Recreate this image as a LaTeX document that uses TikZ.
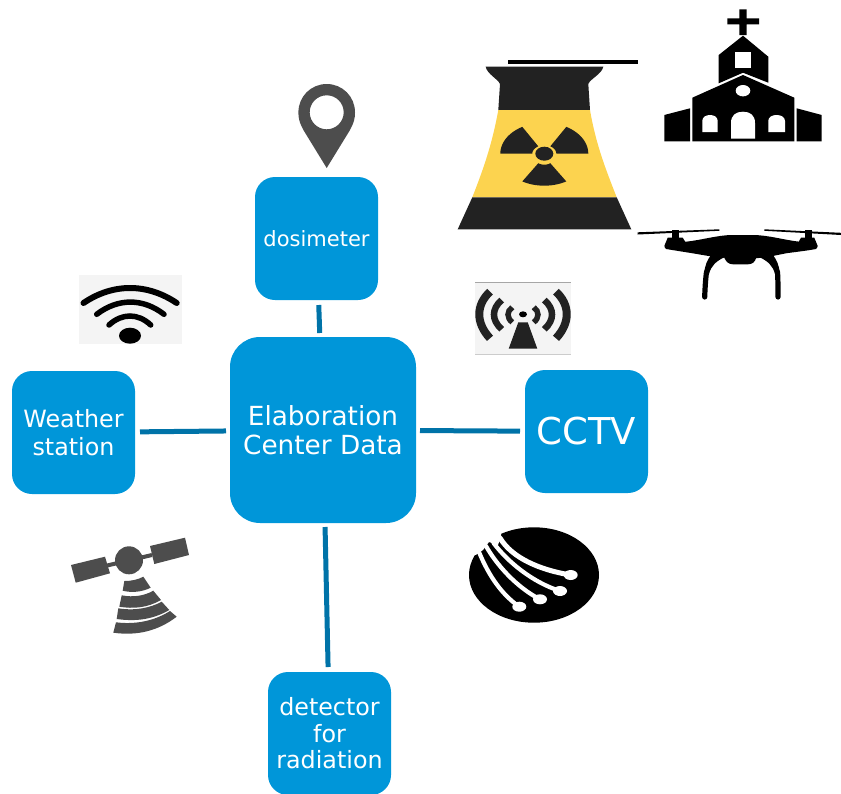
\documentclass[tikz,border=0pt]{standalone}
\usepackage{fontspec}
\setmainfont{DejaVu Sans}
\definecolor{boxblue}{HTML}{0096D9}
\definecolor{linkblue}{HTML}{0073A8}
\definecolor{pingray}{HTML}{4D4D4D}
\definecolor{towerdark}{HTML}{222222}
\definecolor{toweryellow}{HTML}{FCD34F}
\definecolor{iconbg}{HTML}{F4F4F4}
\tikzset{
  x=1pt,y=-1pt,
  unit/.style={draw=none,fill=boxblue,rounded corners=20pt,text=white,align=center,
    minimum width=123pt,minimum height=123pt,inner sep=0pt,outer sep=0pt},
  hub/.style={unit,rounded corners=30pt,minimum width=186pt,minimum height=186pt},
  link/.style={draw=linkblue,line width=5pt,shorten <=5pt,shorten >=4pt},
  fibre/.style={draw=white,line width=4.2pt,line cap=round},
  bandline/.style={draw=black,line cap=round},
}
\newcommand{\fsz}[2]{\fontsize{#1pt}{#2pt}\selectfont}
\begin{document}
\begin{tikzpicture}
\useasboundingbox (0,0) rectangle (841,793);
% units
\node[hub,font=\fsz{26.3}{29.5}]  (hubn) at (323,430) {Elaboration\\Center Data};
\node[unit,font=\fsz{21}{24}] (dosi) at (316.5,238.5) {dosimeter};
\node[unit,font=\fsz{23.8}{27.5}] (wstn) at (73.5,432.5) {Weather\\station};
\node[unit,font=\fsz{37}{42}] (cctv) at (586.5,431.5) {CCTV};
\node[unit,font=\fsz{23.8}{26.5}] (detr) at (329.5,733.5) {detector\\for\\radiation};
\draw[link] (dosi) -- (hubn);
\draw[link] (wstn) -- (hubn);
\draw[link] (cctv) -- (hubn);
\draw[link] (detr) -- (hubn);
% pin
\fill[pingray,even odd rule] (326.7,168) -- (304,131) .. controls (299,122) and (298.4,118) .. (298.4,112.3)
  .. controls (298.4,96.5) and (311,84) .. (326.7,84) .. controls (342.4,84) and (355,96.5) .. (355,112.3)
  .. controls (355,118) and (354.4,122) .. (349.4,131) -- cycle
  (326.7,112.3) circle[radius=17];
% wifi
\fill[iconbg] (79,275) rectangle (182,344);
\draw[bandline,line width=6pt] (83.5,303) .. controls (113,283) and (147,283) .. (176.7,303);
\draw[bandline,line width=5.5pt] (96.7,314.3) .. controls (118,298) and (143,298) .. (164,314.3);
\draw[bandline,line width=5.5pt] (109,325) .. controls (122,313) and (138,313) .. (150.7,325);
\fill[black] (130,335.7) ellipse[x radius=11,y radius=8];
% cooling tower
\fill[black] (508,60) rectangle (638,64);
\fill[towerdark] (485.7,66.7) -- (603.3,66.7) .. controls (602,74) and (590,79) .. (588.3,84) -- (590,110) -- (498.3,110)
  -- (500,84) .. controls (498,79) and (487,74) .. (485.7,66.7) -- cycle;
\fill[toweryellow] (498.3,110) -- (590,110) .. controls (596,145) and (606,170) .. (616.7,197.3) -- (472.3,197.3)
  .. controls (483,170) and (492,145) .. (498.3,110) -- cycle;
\fill[towerdark] (472.3,197.3) -- (616.7,197.3) -- (631.3,229.3) -- (457.7,229.3) -- cycle;
\fill[towerdark] plot[domain=180:240,samples=15] ({544.3+44*cos(\x)},{153.7+31*sin(\x)})
  -- plot[domain=240:180,samples=15] ({544.3+12*cos(\x)},{153.7+8.5*sin(\x)}) -- cycle;
\fill[towerdark] plot[domain=300:360,samples=15] ({544.3+44*cos(\x)},{153.7+31*sin(\x)})
  -- plot[domain=360:300,samples=15] ({544.3+12*cos(\x)},{153.7+8.5*sin(\x)}) -- cycle;
\fill[towerdark] plot[domain=60:120,samples=15] ({544.3+44*cos(\x)},{153.7+32*sin(\x)})
  -- plot[domain=120:60,samples=15] ({544.3+12*cos(\x)},{153.7+11*sin(\x)}) -- cycle;
\fill[towerdark] (544.3,153.7) ellipse[x radius=9,y radius=7];
% church
\fill[black] (739.3,9.3) rectangle (746.7,35) (727.3,18.3) rectangle (759,24.3);
\fill[black] (718.7,55) -- (743,35.7) -- (768.3,56.7) -- (768.3,82.7) -- (743,72.7) -- (718.7,83.3) -- cycle;
\fill[white] (735,52.3) rectangle (751,67.7);
\fill[black] (692.3,97.7) -- (743,75) -- (794.3,97.7) -- (794.3,141.3) -- (692.3,141.3) -- cycle;
\fill[black] (664.3,115) -- (690,108.3) -- (690,141.3) -- (664.3,141.3) -- cycle;
\fill[black] (796.7,108.3) -- (821.7,115) -- (821.7,141.3) -- (796.7,141.3) -- cycle;
\fill[white] (743,90.7) ellipse[x radius=7.3,y radius=5.7];
\fill[white] (731,138.7) -- (731,123) .. controls (731,115) and (736,111.7) .. (743,111.7)
  .. controls (750,111.7) and (755,115) .. (755,123) -- (755,138.7) -- cycle;
\fill[white] (702.3,132) -- (702.3,121) .. controls (702.3,117) and (706,115) .. (710,115)
  .. controls (714,115) and (717.7,117) .. (717.7,121) -- (717.7,132) -- cycle;
\fill[white] (768.3,132) -- (768.3,121) .. controls (768.3,117) and (772,115) .. (776.6,115)
  .. controls (781,115) and (785,117) .. (785,121) -- (785,132) -- cycle;
% drone
\fill[black] (637.7,232.3) -- (719.3,229.3) -- (719.3,230.8) -- (637.7,234.5) -- cycle;
\fill[black] (764.3,229.3) -- (841,232.8) -- (841,235) -- (764.3,230.8) -- cycle;
\fill[black] (672,230) rectangle (679,240);
\fill[black] (804.5,230) rectangle (811.7,240);
\fill[black] (667.7,237.7) -- (682.7,237.7) -- (686,243) -- (664.3,246) -- cycle;
\fill[black] (801,237.7) -- (814.3,237.7) -- (817.7,246) -- (798,243) -- cycle;
\fill[black] (664.3,246.7) -- (668,243) -- (686,241.7) .. controls (702,240) and (718,235) .. (732.7,235)
  -- (752.7,235) .. controls (768,235) and (784,240) .. (799.3,241.7) -- (815,243) -- (817.7,246.7)
  -- (816,249) .. controls (805,251) and (795,252) .. (786,253.3) -- (769.3,256.7) -- (756,258.3)
  .. controls (755,262) and (752,264.3) .. (748,264.3) -- (733,264.3) .. controls (729,264.3) and (726,262) .. (724.3,257.7)
  -- (712.7,256.7) -- (692.7,253.3) -- (666,249) -- cycle;
\fill[black] (712,254) -- (725,257) .. controls (716,261) and (711,266) .. (709,274) -- (704,274) .. controls (705,265) and (707,260) .. (712,254) -- cycle;
\fill[black] (772,254) -- (759,257) .. controls (768,261) and (773,266) .. (775,274) -- (780,274) .. controls (779,265) and (777,260) .. (772,254) -- cycle;
\draw[black,line width=5.2pt,line cap=round] (706.5,272) .. controls (705.5,280) and (705,288) .. (704.7,297);
\draw[black,line width=5.2pt,line cap=round] (777.5,272) .. controls (778,280) and (778,288) .. (778,297);
% non-ionising symbol
\fill[iconbg] (475,282.3) rectangle (570.7,354.3);
\draw[gray!70,line width=.8pt] (475,282.3) -- (570.7,282.3);
\draw[gray!40,line width=.8pt] (475,354.3) -- (570.7,354.3);
\begin{scope}[draw=towerdark,line cap=butt]
\draw[line width=8pt] (490,291.7) .. controls (475.7,305) and (475.7,323) .. (490,338.3);
\draw[line width=6.5pt] (501.7,300) .. controls (491.4,309) and (491.4,320) .. (501.7,329.3);
\draw[line width=5.5pt] (512.3,307.3) .. controls (506.6,311) and (506.6,318) .. (512.3,322.3);
\draw[line width=8pt] (556,291.7) .. controls (570.3,305) and (570.3,323) .. (556,338.3);
\draw[line width=6.5pt] (544.3,300) .. controls (554.6,309) and (554.6,320) .. (544.3,329.3);
\draw[line width=5.5pt] (533.7,307.3) .. controls (539.4,311) and (539.4,318) .. (533.7,322.3);
\end{scope}
\fill[black] (523,314.3) ellipse[x radius=4,y radius=3];
\fill[towerdark] (518.3,322.3) -- (527.7,322.3) -- (537.3,348.7) -- (508.7,348.7) -- cycle;
% satellite
\fill[pingray] (71,565) -- (105,556.7) -- (110,573.3) -- (75.7,582.7) -- cycle;
\fill[pingray] (150,546) -- (185,537.7) -- (189,555) -- (154.3,564) -- cycle;
\draw[pingray,line width=4pt] (105,566) -- (152,555);
\fill[pingray] (129,560.3) circle[radius=14];
\fill[pingray] (124.3,581) .. controls (132,581) and (138,579.5) .. (143.3,576.7) -- (150.7,587.7)
  .. controls (142,592) and (132,593) .. (122.7,590.7) -- cycle;
\fill[pingray] (121.7,595.3) .. controls (133,597.5) and (144,596) .. (153.3,590.7) -- (161,600)
  .. controls (147,608) and (133,609) .. (119.3,606.7) -- cycle;
\fill[pingray] (118.3,608.3) .. controls (135,611) and (150,608) .. (161.7,601.7) -- (169.3,610)
  .. controls (152,620) and (135,621.5) .. (116.7,619) -- cycle;
\fill[pingray] (116,622.3) .. controls (137,625) and (156,620) .. (170,611) -- (176.7,616.7)
  .. controls (158,631) and (137,636) .. (113.3,632.7) -- cycle;
% optical fibre
\fill[black] (534,575) ellipse[x radius=65,y radius=47.7];
\fill[white] (466,530) -- (501,528) -- (501,536.7) -- (498,545) -- (489,542) -- (483,550) -- (475.7,555) -- (466,552) -- cycle;
\draw[fibre,line width=5pt] (500,538) .. controls (512,558) and (540,570) .. (570.7,575);
\draw[fibre] (493.5,543) .. controls (508,562) and (532,582) .. (560,591);
\draw[fibre] (486,546) .. controls (496,564) and (516,587) .. (540,599.3);
\draw[fibre] (479,552) .. controls (486,569) and (498,592) .. (519.3,606.7);
\fill[white] (570.7,575) ellipse[x radius=7,y radius=5];
\fill[white] (560,591) ellipse[x radius=7,y radius=5];
\fill[white] (540,599.3) ellipse[x radius=7,y radius=5];
\fill[white] (519.3,606.7) ellipse[x radius=7,y radius=5];
\end{tikzpicture}
\end{document}
